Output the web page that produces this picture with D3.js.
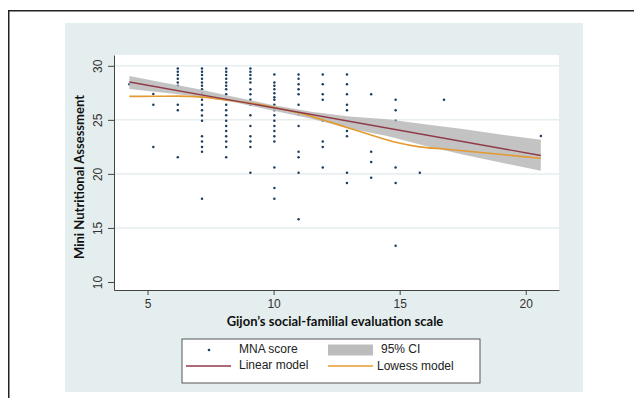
<!DOCTYPE html>
<html>
<head>
<meta charset="utf-8">
<script src="https://cdn.jsdelivr.net/npm/d3@7"></script>
<style>
  body { margin: 0; background: #fff; }
  svg { display: block; }
</style>
</head>
<body>
<svg id="chart"></svg>
<script>
// Gijon score columns and the MNA scores at each one
const gijonLevels = [4.28, 5.23, 6.2, 7.16, 8.12, 9.08, 10.03, 10.99, 11.95, 12.91, 13.87, 14.84, 15.8, 16.76, 20.6]
const mnaScores = [
  [28.3],
  [27.4, 26.4, 22.5],
  [29.76, 29.45, 29.14, 28.8, 28.46, 28.15, 26.4, 25.9, 21.55],
  [29.76, 29.45, 29.14, 28.8, 28.46, 28.15, 27.82, 27.45, 26.85, 26.4, 25.9, 25.4, 24.92, 23.48, 23.0, 22.5, 22.05, 17.7],
  [29.76, 29.45, 29.14, 28.8, 28.46, 28.15, 27.82, 27.36, 26.85, 26.4, 25.9, 25.42, 24.92, 24.43, 23.97, 23.48, 23.0, 22.5, 21.55],
  [29.76, 29.45, 29.14, 28.8, 28.46, 27.82, 27.36, 26.85, 26.4, 25.42, 24.43, 23.48, 23.0, 22.5, 20.1],
  [29.2, 28.46, 28.15, 27.82, 27.45, 27.1, 26.85, 26.4, 25.9, 25.42, 24.92, 24.43, 23.97, 23.48, 23.0, 20.6, 18.7, 17.7],
  [29.2, 28.8, 28.3, 27.82, 27.36, 26.4, 25.5, 24.43, 22.05, 21.55, 20.1, 15.8],
  [29.2, 28.3, 27.36, 26.85, 24.92, 23.0, 22.5, 20.6],
  [29.2, 28.3, 27.36, 26.4, 25.9, 23.97, 23.48, 20.1, 19.15],
  [27.36, 22.05, 21.1, 19.65],
  [26.85, 25.9, 24.92, 20.6, 19.15, 13.35],
  [20.1],
  [26.85],
  [23.5],
]

// fitted lines
const linearX = [4.28, 20.6]
const linearY = [28.5, 21.7]
const lowessX = [4.28, 5.23, 6.2, 7.16, 8.12, 9.08, 10.03, 10.99, 11.95, 12.91, 13.87, 14.84, 15.8, 16.76, 20.6]
const lowessY = [27.17, 27.18, 27.2, 27.1, 26.85, 26.55, 26.15, 25.65, 25.0, 24.3, 23.6, 22.92, 22.5, 22.3, 21.45]

// 95% CI band of the linear model
const ciX = [4.28, 5.5, 7.0, 8.5, 10.0, 11.5, 13.0, 14.5, 16.0, 17.5, 19.0, 20.6]
const ciLower = [27.85, 27.55, 27.15, 26.6, 25.85, 25.1, 24.2, 23.5, 22.6, 21.8, 21.05, 20.3]
const ciUpper = [29.05, 28.5, 27.85, 27.1, 26.35, 25.75, 25.3, 25.05, 24.6, 24.15, 23.65, 23.15]

const xTicks = [5, 10, 15, 20]
const yTicks = [10, 15, 20, 25, 30]
const gridTicks = [15, 20, 25, 30]

const legendItems = [
  { label: 'MNA score', type: 'dot' },
  { label: '95% CI', type: 'band' },
  { label: 'Linear model', type: 'linear' },
  { label: 'Lowess model', type: 'lowess' },
]

const width = 634
const height = 398
const colors = { dot: '#1b3d5e', band: '#bcbcbc', linear: '#8f3a46', lowess: '#e49a2e', bg: '#e4eeee' }

const svg = d3.select('#chart').attr('width', width).attr('height', height)

// outer frame (only top and left visible in the crop)
svg.append('rect').attr('x', 8.75).attr('y', 10.75).attr('width', 700).attr('height', 500)
  .attr('fill', '#fff').attr('stroke', '#222').attr('stroke-width', 1.5)

// graph region
svg.append('rect').attr('x', 65).attr('y', 23).attr('width', 518).attr('height', 369).attr('fill', colors.bg)

const plot = { left: 114, right: 559, top: 55, bottom: 290 }
svg.append('rect').attr('x', plot.left).attr('y', plot.top)
  .attr('width', plot.right - plot.left).attr('height', plot.bottom - plot.top).attr('fill', '#fff')

const x = d3.scaleLinear().domain([3.67, 21.32]).range([plot.left, plot.right])
const y = d3.scaleLinear().domain([9.26, 31.0]).range([plot.bottom, plot.top])

// grid
svg.append('g').selectAll('line').data(gridTicks).join('line')
  .attr('x1', plot.left).attr('x2', plot.right)
  .attr('y1', (d) => y(d)).attr('y2', (d) => y(d))
  .attr('stroke', '#e6eeef').attr('stroke-width', 1.5)

// points
const points = gijonLevels.flatMap((g, i) => mnaScores[i].map((m) => ({ g, m })))
svg.append('g').attr('fill', colors.dot).selectAll('circle').data(points).join('circle')
  .attr('cx', (d) => x(d.g)).attr('cy', (d) => y(d.m)).attr('r', 1.25)

// CI band
const band = d3.area().x((d, i) => x(ciX[i])).y0((d, i) => y(ciLower[i])).y1((d, i) => y(ciUpper[i]))
svg.append('path').datum(ciX).attr('d', band).attr('fill', colors.band).attr('fill-opacity', 0.9)

const line = d3.line().x((d) => x(d[0])).y((d) => y(d[1]))
svg.append('path').datum(d3.zip(lowessX, lowessY)).attr('d', line.curve(d3.curveMonotoneX))
  .attr('fill', 'none').attr('stroke', colors.lowess).attr('stroke-width', 1.6)
svg.append('path').datum(d3.zip(linearX, linearY)).attr('d', d3.line().x((d) => x(d[0])).y((d) => y(d[1])))
  .attr('fill', 'none').attr('stroke', colors.linear).attr('stroke-width', 1.4)

// axes
const axisColor = '#444'
const xAxis = svg.append('g').attr('transform', `translate(0,${plot.bottom})`)
  .call(d3.axisBottom(x).tickValues(xTicks).tickSize(5).tickPadding(4).tickSizeOuter(0))
xAxis.select('.domain').attr('stroke', axisColor)
xAxis.selectAll('.tick line').attr('stroke', axisColor)
xAxis.selectAll('text').attr('font-family', 'Liberation Sans, Arial, sans-serif').attr('font-size', 12).attr('fill', '#333')

const yAxis = svg.append('g').attr('transform', `translate(${plot.left},0)`)
  .call(d3.axisLeft(y).tickValues(yTicks).tickSize(6).tickSizeOuter(0))
yAxis.select('.domain').attr('stroke', axisColor)
yAxis.selectAll('.tick line').attr('stroke', axisColor)
yAxis.selectAll('text')
  .attr('font-family', 'Liberation Sans, Arial, sans-serif').attr('font-size', 12).attr('fill', '#333')
  .attr('x', null).attr('dy', null)
  .attr('transform', 'translate(-15,0) rotate(-90)')
  .attr('text-anchor', 'middle').attr('dominant-baseline', 'middle')

// axis titles
svg.append('text').attr('x', 335).attr('y', 326).attr('text-anchor', 'middle')
  .attr('font-family', 'Lato, sans-serif').attr('font-weight', 'bold').attr('font-size', 13).attr('fill', '#111')
  .text('Gijon’s social-familial evaluation scale')
svg.append('text').attr('transform', 'translate(84,177) rotate(-90)').attr('text-anchor', 'middle')
  .attr('font-family', 'Lato, sans-serif').attr('font-weight', 'bold').attr('font-size', 13).attr('fill', '#111')
  .text('Mini Nutritional Assessment')

// legend
const legend = svg.append('g')
legend.append('rect').attr('x', 182).attr('y', 339).attr('width', 298).attr('height', 44)
  .attr('fill', '#fff').attr('stroke', '#555').attr('stroke-width', 1)
const cols = [{ key: 186, text: 239 }, { key: 328, text: 381 }]
const rows = [350, 366]
legendItems.forEach((d, i) => {
  const c = cols[i % 2]
  const r = rows[Math.floor(i / 2)]
  const g = legend.append('g')
  if (d.type === 'dot') g.append('circle').attr('cx', 209).attr('cy', r).attr('r', 1.3).attr('fill', colors.dot)
  if (d.type === 'band') g.append('rect').attr('x', c.key).attr('y', r - 5.5).attr('width', 45).attr('height', 11).attr('fill', colors.band)
  if (d.type === 'linear' || d.type === 'lowess')
    g.append('line').attr('x1', c.key).attr('x2', c.key + 45).attr('y1', r).attr('y2', r)
      .attr('stroke', colors[d.type]).attr('stroke-width', 1.4)
  g.append('text').attr('x', d.type === 'lowess' ? c.text - 4 : c.text).attr('y', r + (d.type === 'lowess' ? 1 : 0))
    .attr('dominant-baseline', 'middle')
    .attr('font-family', 'Liberation Sans, Arial, sans-serif').attr('font-size', 12).attr('fill', '#222')
    .text(d.label)
})
</script>
</body>
</html>
